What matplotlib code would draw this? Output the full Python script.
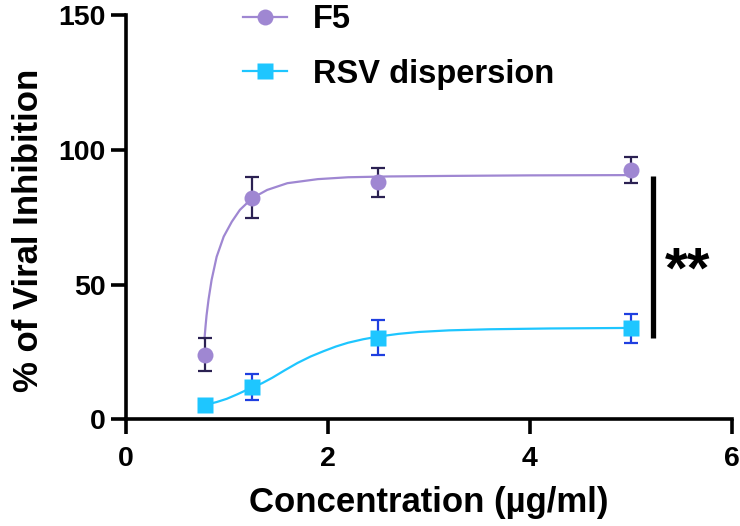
import matplotlib
matplotlib.use('Agg')
import matplotlib.pyplot as plt
import numpy as np

plt.rcParams['font.family'] = ['Liberation Sans', 'DejaVu Sans']
plt.rcParams['font.weight'] = 'bold'

# measured points (mean +/- error)
conc = [0.78, 1.25, 2.5, 5.0]
f5_mean = [23.9, 82.2, 87.9, 92.5]
f5_err = [6.1, 7.7, 5.5, 4.7]
rsv_mean = [5.3, 11.9, 30.3, 33.8]
rsv_err = [1.5, 4.8, 6.4, 5.4]

# fitted curves
f5_fit_x = [0.78, 0.79, 0.80, 0.82, 0.85, 0.90, 0.97, 1.05, 1.13, 1.25, 1.40, 1.60,
            1.90, 2.2, 2.6, 3.2, 4.0, 5.0]
f5_fit_y = [30.0, 34.5, 38.5, 44.5, 51.7, 60.3, 67.8, 73.3, 77.7, 82.0, 85.1, 87.6,
            89.1, 89.8, 90.1, 90.3, 90.5, 90.6]
rsv_fit_x = [0.78, 0.9, 1.0, 1.1, 1.25, 1.35, 1.45, 1.57, 1.70, 1.83, 1.96, 2.08, 2.2,
             2.35, 2.5, 2.7, 2.9, 3.2, 3.6, 4.2, 5.0]
rsv_fit_y = [5.3, 6.4, 7.6, 9.2, 11.8, 13.4, 15.4, 18.1, 20.9, 23.3, 25.3, 27.0, 28.4,
             29.7, 30.7, 31.7, 32.4, 33.0, 33.4, 33.7, 33.9]

c_f5 = '#9f87d2'
c_f5_err = '#2b2152'
c_rsv = '#1ec6ff'
c_rsv_err = '#1f3fe0'

fig = plt.figure(figsize=(7.4, 5.26), dpi=100, facecolor='w')
ax = fig.add_axes([125.7/740, 1-419.3/526, (732-125.7)/740, (419.3-15)/526])

ax.plot(f5_fit_x, f5_fit_y, color=c_f5, lw=1.6, zorder=2)
ax.plot(rsv_fit_x, rsv_fit_y, color=c_rsv, lw=1.6, zorder=2)

ax.errorbar(conc, f5_mean, yerr=f5_err, fmt='none', ecolor=c_f5_err, elinewidth=1.6,
            capsize=4.8, capthick=1.6, zorder=3)
ax.errorbar(conc, rsv_mean, yerr=rsv_err, fmt='none', ecolor=c_rsv_err, elinewidth=1.6,
            capsize=4.8, capthick=1.6, zorder=3)
ax.plot(conc, f5_mean, 'o', color=c_f5, ms=11.5, mec='none', zorder=4)
ax.plot(conc, rsv_mean, 's', color=c_rsv, ms=11.5, mec='none', zorder=4)

# legend handles
h1, = ax.plot([], [], '-o', color=c_f5, ms=11.5, mec='none', lw=1.6, label='F5')
h2, = ax.plot([], [], '-s', color=c_rsv, ms=11.5, mec='none', lw=1.6, label='RSV dispersion')
fig.legend(handles=[h1, h2], loc='upper left', bbox_to_anchor=(243/740, 1 - 4/526),
           frameon=False, fontsize=23.5, handlelength=1.35, handletextpad=0.8,
           labelspacing=0.72, borderpad=0.0, borderaxespad=0.0)

# significance bar
ax.plot([5.215, 5.215], [30.3, 90.4], color='black', lw=3.8, solid_capstyle='butt', clip_on=False)
ax.text(5.34, 49, '**', fontsize=42, fontweight='bold', ha='left', va='baseline')

ax.set_xlim(0, 6)
ax.set_ylim(0, 150)
ax.set_xticks([0, 2, 4, 6])
ax.set_yticks([0, 50, 100, 150])
for s in ['top', 'right']:
    ax.spines[s].set_visible(False)
for s in ['left', 'bottom']:
    ax.spines[s].set_linewidth(2.6)
ax.tick_params(axis='both', width=2.6, length=11, labelsize=20.5)
ax.tick_params(axis='x', pad=8)
ax.tick_params(axis='y', pad=3.5)
for lab in ax.get_xticklabels() + ax.get_yticklabels():
    lab.set_fontweight('bold')

ax.set_xlabel('Concentration (µg/ml)', fontsize=25, fontweight='bold', labelpad=10)
ax.set_ylabel('% of Viral Inhibition', fontsize=25, fontweight='bold')
ax.yaxis.set_label_coords(-0.133, 0.468)

fig.savefig('out.png', dpi=100)
